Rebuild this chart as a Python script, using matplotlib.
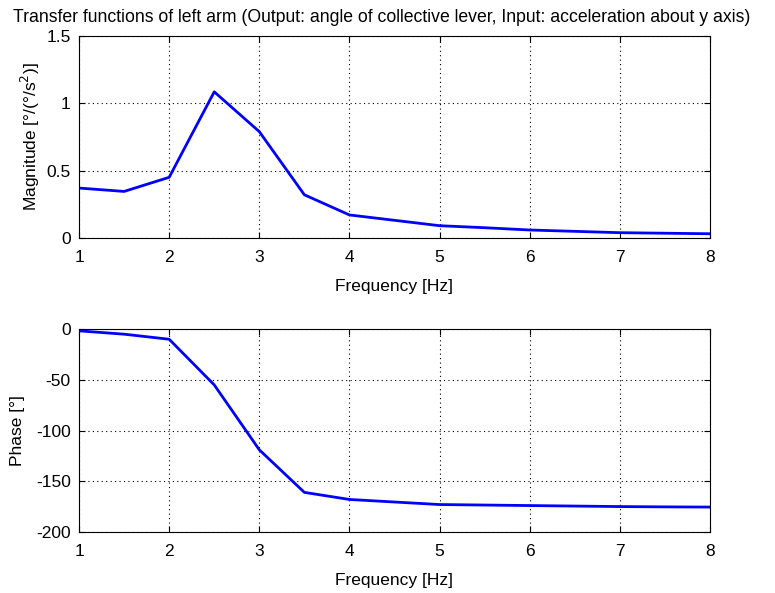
import matplotlib
matplotlib.use("Agg")
import matplotlib.pyplot as plt

freq = [1, 1.5, 2, 2.5, 3, 3.5, 4, 4.5, 5, 5.5, 6, 6.5, 7, 7.5, 8]
magnitude = [0.37, 0.345, 0.45, 1.086, 0.79, 0.32, 0.17, 0.13, 0.09, 0.075, 0.058, 0.048, 0.038, 0.034, 0.03]
phase = [-1.7, -5, -10, -55, -119, -161, -168, -170.5, -173, -173.5, -174, -174.5, -175, -175.3, -175.5]

plt.rcParams['font.family'] = ['Liberation Sans', 'DejaVu Sans']
plt.rcParams['axes.unicode_minus'] = False

FS = 12.5
fig = plt.figure(figsize=(7.75, 5.93), dpi=100)
ax1 = fig.add_axes([0.102, 0.599, 0.814, 0.340])
ax2 = fig.add_axes([0.102, 0.103, 0.814, 0.342])

for ax in (ax1, ax2):
    ax.set_xlim(1, 8)
    ax.set_xticks(range(1, 9))
    ax.grid(True, color='black', linestyle=(0, (1, 3)), linewidth=0.8)
    ax.tick_params(direction='in', top=True, right=True, length=4, width=0.8, labelsize=FS, pad=6)
    ax.tick_params(axis='x', pad=9)
    for s in ax.spines.values():
        s.set_linewidth(0.8)
    ax.set_xlabel('Frequency [Hz]', fontsize=FS, labelpad=10)

ax1.plot(freq, magnitude, color='#0000ff', linewidth=2)
ax1.set_ylim(0, 1.5)
ax1.set_yticks([0, 0.5, 1, 1.5])
ax1.set_yticklabels(['0', '0.5', '1', '1.5'])
ax1.set_ylabel('Magnitude [°/(°/s$^2$)]', fontsize=FS, labelpad=3)
ax1.set_title('Transfer functions of left arm (Output: angle of collective lever, Input: acceleration about y axis)',
              fontsize=12.7, pad=10, x=0.48)

ax2.plot(freq, phase, color='#0000ff', linewidth=2)
ax2.set_ylim(-200, 0)
ax2.set_yticks([-200, -150, -100, -50, 0])
ax2.set_ylabel('Phase [°]', fontsize=FS, labelpad=8)

fig.savefig('out.png', dpi=100)
